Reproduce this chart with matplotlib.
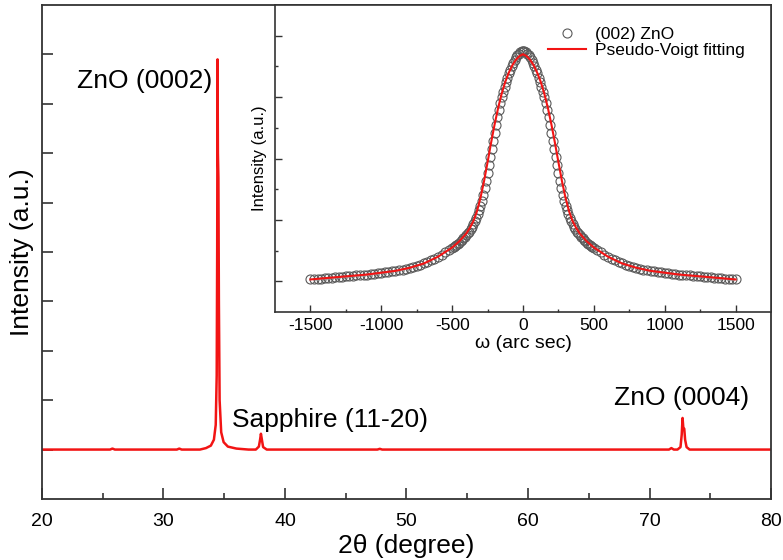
import matplotlib.pyplot as plt
import numpy as np

plt.rcParams['font.family'] = ['Liberation Sans', 'DejaVu Sans']
plt.rcParams['axes.unicode_minus'] = False

# XRD 2theta scan (baseline = 0)
two_theta = [20.0, 25.6, 25.8, 26.0, 31.1, 31.3, 31.5, 33.0, 33.5, 33.9, 34.15, 34.3,
             34.38, 34.42, 34.45, 34.48, 34.52, 34.56, 34.62, 34.75, 34.95, 35.3, 36.0,
             37.0, 37.6, 37.85, 37.95, 38.02, 38.1, 38.2, 38.5, 47.6, 47.8, 48.0,
             71.6, 71.8, 72.0, 72.3, 72.55, 72.65, 72.72, 72.78, 72.86, 72.93, 73.05,
             73.3, 80.0]
xrd_int = [0.0, 0.0, 0.02, 0.0, 0.0, 0.02, 0.0, 0.0, 0.03, 0.08, 0.2, 0.5,
           1.5, 4.0, 7.9, 6.0, 5.5, 3.0, 1.0, 0.35, 0.15, 0.06, 0.02,
           0.0, 0.0, 0.06, 0.2, 0.32, 0.2, 0.05, 0.0, 0.0, 0.015, 0.0,
           0.0, 0.03, 0.0, 0.0, 0.05, 0.3, 0.64, 0.45, 0.42, 0.2, 0.05,
           0.0, 0.0]

# rocking curve, half profile (symmetric about omega = 0)
rc_w = [0, 10, 20, 30, 40, 50, 60, 70, 80, 90, 100, 110, 120, 130, 140, 150, 160,
        170, 180, 190, 200, 210, 220, 230, 240, 250, 260, 270, 280, 290, 300, 310,
        320, 330, 340, 350, 360, 370, 380, 390, 400, 410, 420, 430, 440, 450, 460,
        470, 480, 490, 500, 525, 550, 575, 600, 625, 650, 675, 700, 725, 750, 775,
        800, 825, 850, 875, 900, 925, 950, 975, 1000, 1025, 1050, 1075, 1100, 1125,
        1150, 1175, 1200, 1225, 1250, 1275, 1300, 1325, 1350, 1375, 1400, 1425,
        1450, 1475, 1500]
rc_int = [3.76, 3.75, 3.73, 3.71, 3.68, 3.65, 3.61, 3.56, 3.51, 3.45, 3.39, 3.32,
          3.25, 3.17, 3.09, 3.00, 2.90, 2.79, 2.67, 2.55, 2.42, 2.29, 2.16, 2.03,
          1.90, 1.77, 1.64, 1.52, 1.41, 1.31, 1.23, 1.16, 1.09, 1.03, 0.98, 0.93,
          0.89, 0.85, 0.81, 0.78, 0.75, 0.72, 0.70, 0.67, 0.65, 0.63, 0.61, 0.59,
          0.57, 0.56, 0.54, 0.51, 0.47, 0.43, 0.40, 0.37, 0.34, 0.31, 0.29, 0.27,
          0.25, 0.23, 0.22, 0.20, 0.19, 0.18, 0.17, 0.16, 0.15, 0.145, 0.14, 0.13,
          0.125, 0.12, 0.11, 0.105, 0.10, 0.095, 0.09, 0.085, 0.08, 0.075, 0.07,
          0.065, 0.06, 0.055, 0.05, 0.045, 0.04, 0.035, 0.03]

# pseudo-Voigt fit, half profile
fit_w = [0, 25, 50, 75, 100, 125, 150, 175, 200, 225, 250, 275, 300, 325, 350, 375,
         400, 450, 500, 600, 700, 800, 900, 1000, 1100, 1200, 1300, 1400, 1500]
fit_int = [3.70, 3.67, 3.61, 3.52, 3.40, 3.25, 3.06, 2.83, 2.56, 2.26, 1.94, 1.63,
           1.36, 1.14, 0.98, 0.87, 0.78, 0.65, 0.55, 0.40, 0.29, 0.22, 0.17, 0.14,
           0.11, 0.09, 0.07, 0.05, 0.03]

scan_w = np.concatenate([-np.array(rc_w[:0:-1]), rc_w])
scan_i = np.concatenate([rc_int[:0:-1], rc_int])
line_w = np.concatenate([-np.array(fit_w[:0:-1]), fit_w])
line_i = np.concatenate([fit_int[:0:-1], fit_int])

red = '#f21414'
spine_c = '#333333'

fig = plt.figure(figsize=(7.83, 5.6), dpi=100)
ax = fig.add_axes([0.0536, 0.109, 0.9311, 0.882])

ax.plot(two_theta, xrd_int, color=red, lw=1.8)
ax.set_xlim(20, 80)
ax.set_ylim(-1, 9)
ax.set_xticks(np.arange(20, 81, 10))
ax.set_xticks(np.arange(25, 80, 10), minor=True)
ax.set_yticks(np.arange(0, 9, 1))
ax.set_yticklabels([])
ax.tick_params(direction='in', length=8, width=1.2, color=spine_c, labelsize=14, pad=10)
ax.tick_params(which='minor', direction='in', length=4, width=1.2, color=spine_c)
for s in ax.spines.values():
    s.set_color(spine_c)
    s.set_linewidth(1.3)
ax.set_xlabel('2\u03b8 (degree)', fontsize=19, labelpad=3)
ax.set_ylabel('Intensity (a.u.)', fontsize=19, labelpad=-4)

ax.text(34.0, 7.46, 'ZnO (0002)', fontsize=19, ha='right', va='center')
ax.text(35.6, 0.6, 'Sapphire (11-20)', fontsize=19, ha='left', va='center')
ax.text(72.6, 1.05, 'ZnO (0004)', fontsize=19, ha='center', va='center')

# inset: rocking curve
ins = fig.add_axes([0.3512, 0.4429, 0.6335, 0.548])
ins.plot(scan_w, scan_i, 'o', mfc='none', mec='#5a5a5a', mew=0.8, ms=6.5,
         label='(002) ZnO')
ins.plot(line_w, line_i, color=red, lw=1.5, label='Pseudo-Voigt fitting')
ins.set_xlim(-1750, 1750)
ins.set_ylim(-0.5, 4.5)
ins.set_xticks(np.arange(-1500, 1501, 500))
ins.set_xticks(np.arange(-1250, 1500, 500), minor=True)
ins.set_yticks(np.arange(0, 5, 1))
ins.set_yticks(np.arange(0.5, 4.5, 1), minor=True)
ins.set_yticklabels([])
ins.tick_params(direction='in', length=5, width=1.0, color=spine_c, labelsize=12.5, pad=4)
ins.tick_params(which='minor', direction='in', length=2.5, width=1.0, color=spine_c)
for s in ins.spines.values():
    s.set_color(spine_c)
    s.set_linewidth(1.2)
ins.set_xlabel('\u03c9 (arc sec)', fontsize=14, labelpad=2)
ins.set_ylabel('Intensity (a.u.)', fontsize=12, labelpad=2)
ins.legend(loc='upper left', bbox_to_anchor=(0.55, 0.93), frameon=False,
           fontsize=12.5, handlelength=2.2, handletextpad=0.5, borderpad=0,
           borderaxespad=0, labelspacing=0.05)

fig.savefig('out.png', dpi=100)
